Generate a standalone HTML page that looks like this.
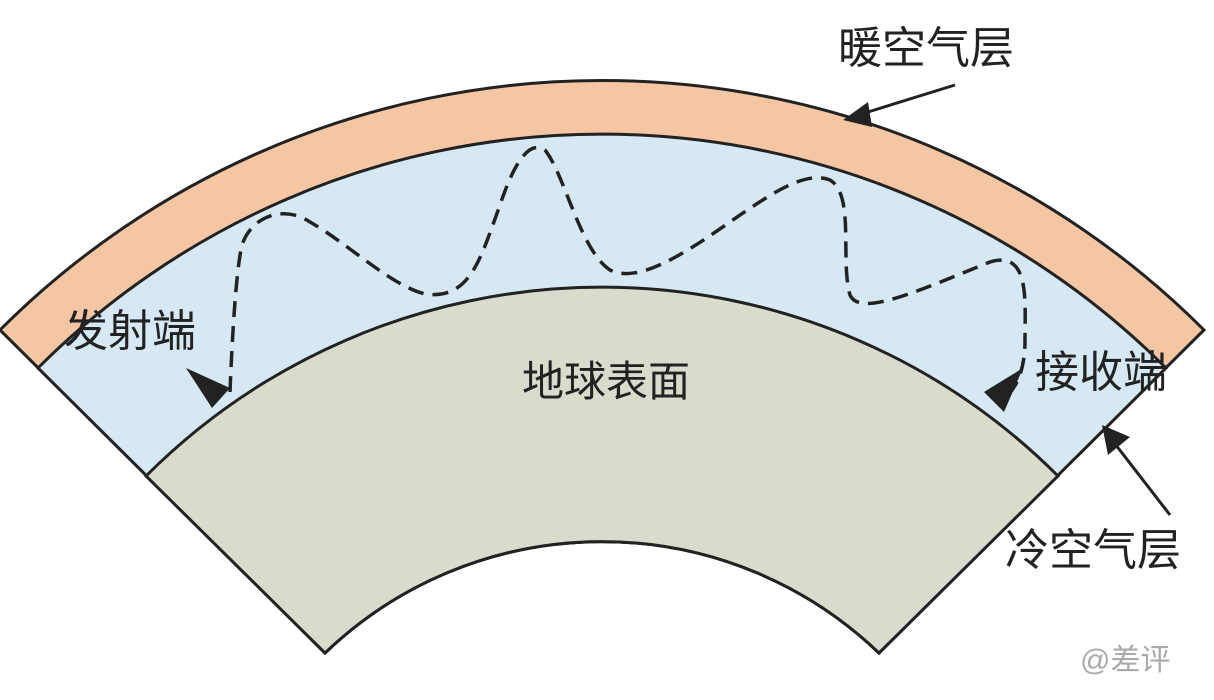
<!DOCTYPE html>
<html><head><meta charset="utf-8"><style>
html,body{margin:0;padding:0;background:#fff;width:1214px;height:700px;overflow:hidden}
text{font-family:"Liberation Sans","Noto Sans CJK SC",sans-serif;fill:#222}
</style></head><body>
<svg width="1214" height="700" viewBox="0 0 1214 700">
<path d="M0,330 A851,851 0 0 1 1204,330 L879,653 A400,400 0 0 0 325,653 Z" fill="#F5C6A3" stroke="#222" stroke-width="3"/>
<path d="M38,368 A797,797 0 0 1 1166,368 L879,653 A400,400 0 0 0 325,653 Z" fill="#D5E8F4" stroke="#222" stroke-width="3"/>
<path d="M146,476 A645,645 0 0 1 1058,476 L879,653 A400,400 0 0 0 325,653 Z" fill="#D9DCCD" stroke="#222" stroke-width="3"/>
<path d="M230,392 C232,340 236,270 242,245 C252,215 285,205 310,222 C350,245 390,285 425,294 C470,300 480,260 500,205 C515,160 530,140 545,150 C565,175 580,250 610,270 C640,285 690,250 740,215 C770,195 805,170 830,180 C855,195 840,260 850,295 C860,318 920,290 990,262 C1030,250 1025,300 1025,340 C1025,380 1010,395 1000,402" fill="none" stroke="#222" stroke-width="3.5" stroke-dasharray="16,9"/>
<polygon points="186,368 230,388 212,408" fill="#222"/>
<polygon points="1023,368 984,392 1004,412" fill="#222"/>
<line x1="955" y1="85" x2="855" y2="116" stroke="#222" stroke-width="3"/>
<polygon points="843,120 868,102 872,127" fill="#222"/>
<line x1="1170" y1="515" x2="1112" y2="440" stroke="#222" stroke-width="3"/>
<polygon points="1102,425 1130,437 1108,455" fill="#222"/>
<text x="838" y="63" font-size="44">暖空气层</text>
<text x="64" y="346" font-size="44">发射端</text>
<text x="522" y="396" font-size="42">地球表面</text>
<text x="1035" y="387" font-size="44">接收端</text>
<text x="1005" y="565" font-size="44">冷空气层</text>
<text x="1080" y="670" font-size="30" style="fill:#aaa">@差评</text>
</svg>
</body></html>
